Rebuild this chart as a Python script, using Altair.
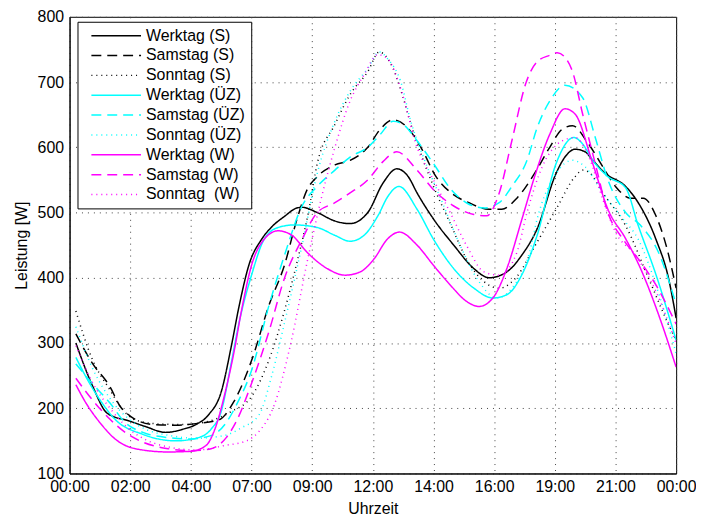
import altair as alt
import pandas as pd

series_names = ["Werktag (S)", "Samstag (S)", "Sonntag (S)",
                "Werktag (ÜZ)", "Samstag (ÜZ)", "Sonntag (ÜZ)",
                "Werktag (W)", "Samstag (W)", "Sonntag \u00a0(W)"]
series_colors = ["#000000", "#000000", "#000000",
                 "#00ffff", "#00ffff", "#00ffff",
                 "#ff00ff", "#ff00ff", "#ff00ff"]
series_dashes = [[1, 0], [10, 6], [1, 4],
                 [1, 0], [10, 6], [1, 4],
                 [1, 0], [10, 6], [1, 4]]

x_tick_values = [0, 2.4, 4.8, 7.2, 9.6, 12, 14.4, 16.8, 19.2, 21.6, 24]
x_tick_labels = ["00:00", "02:00", "04:00", "07:00", "09:00", "12:00",
                 "14:00", "16:00", "19:00", "21:00", "00:00"]
y_tick_values = [100, 200, 300, 400, 500, 600, 700, 800]

# Werktag (S)
h_ws = [0.25, 0.9, 1.5, 2.4, 3.0, 3.8, 4.5, 5.0, 5.5, 6.0, 6.4, 6.7, 7.1, 7.6, 8.0, 8.5, 9.0,
        9.2, 9.8, 10.5, 11.1, 11.8, 12.4, 12.95, 13.4, 13.75, 14.4, 15.2, 16.0, 16.6, 17.3,
        17.9, 18.5, 19.25, 19.6, 20.0, 20.4, 20.7, 21.2, 22.0, 22.5, 23.2, 23.7, 24.0]
v_ws = [300, 235, 192, 180, 172, 163, 168, 175, 190, 225, 295, 355, 420, 459, 478, 494, 507,
        508, 500, 487, 483, 500, 545, 567, 555, 530, 490, 450, 414, 400, 409,
        435, 475, 560, 585, 597, 593, 580, 560, 540, 515, 459, 399, 338]
# Samstag (S)
h_ss = [0.25, 0.9, 1.6, 2.0, 2.4, 3.3, 4.2, 5.1, 5.9, 6.5, 7.2, 7.9, 8.5, 9.0, 9.4, 9.8, 10.5,
        11.1, 11.8, 12.3, 12.8, 13.35, 13.9, 14.5, 15.1, 15.8, 16.6, 17.1, 17.7, 18.4, 19.0,
        19.5, 19.9, 20.5, 21.1, 21.6, 22.2, 22.7, 23.2, 23.6, 24.0]
v_ss = [314, 269, 233, 203, 188, 175, 174, 177, 182, 210, 273, 359, 419, 490, 535, 555, 573,
        580, 600, 628, 642, 631, 600, 555, 530, 515, 505, 505, 522, 560, 600,
        628, 633, 607, 570, 540, 522, 522, 495, 450, 384]
# Sonntag (S)
h_so = [0.25, 0.9, 1.6, 2.1, 2.6, 3.5, 4.5, 5.5, 6.4, 7.2, 7.9, 8.5, 9.0, 9.45, 9.8, 10.5,
        11.1, 11.8, 12.25, 12.8, 13.2, 13.5, 13.9, 14.4, 15.1, 15.7, 16.4, 17.0, 17.7, 18.4,
        19.25, 20.0, 20.3, 20.6, 21.1, 22.0, 22.9, 23.8, 24.0]
v_so = [349, 275, 228, 198, 182, 176, 175, 180, 195, 218, 275, 349, 424, 500, 575, 635,
        681, 716, 746, 721, 676, 636, 590, 540, 480, 429, 394, 384, 402, 448,
        505, 555, 565, 560, 530, 480, 400, 320, 305]
# Werktag (ÜZ)
h_wu = [0.25, 0.65, 1.2, 1.8, 2.9, 4.2, 5.1, 5.6, 6.0, 6.4, 6.7, 7.2, 7.7, 8.25, 8.9, 9.8,
        10.5, 11.1, 11.65, 12.2, 12.6, 13.03, 13.75, 14.4, 15.2, 16.0, 16.75, 17.3, 17.9,
        18.5, 19.25, 19.95, 20.3, 20.7, 21.3, 22.0, 22.5, 23.2, 24.0]
v_wu = [278, 248, 213, 183, 160, 150, 155, 168, 195, 270, 330, 404, 459, 477, 481, 477,
        465, 456, 465, 495, 525, 540, 505, 459, 414, 384, 369, 374, 405,
        465, 575, 615, 605, 580, 555, 538, 480, 405, 304]
# Samstag (ÜZ)
h_su = [0.25, 0.9, 1.6, 2.2, 2.9, 3.9, 4.8, 5.6, 6.2, 6.6, 7.2, 7.9, 8.5, 9.2, 9.8, 10.5,
        11.1, 11.8, 12.3, 12.8, 13.2, 13.75, 14.4, 15.1, 15.7, 16.4, 17.0, 17.5, 18.1, 18.5,
        19.0, 19.6, 20.3, 20.8, 21.3, 22.0, 22.6, 23.3, 24.0]
v_su = [268, 238, 208, 178, 163, 155, 153, 158, 178, 205, 258, 359, 434, 510, 540, 565,
        585, 600, 620, 640, 635, 610, 575, 535, 515, 507, 515, 540, 580, 630,
        671, 695, 676, 615, 550, 500, 480, 439, 359]
# Sonntag (ÜZ)
h_sou = [0.25, 0.9, 1.6, 2.3, 3.0, 4.0, 5.0, 6.1, 6.8, 7.5, 8.0, 8.5, 9.2, 9.8, 10.5, 11.1,
         11.8, 12.25, 12.6, 13.1, 13.5, 14.0, 14.7, 15.45, 16.2, 16.9, 17.5, 18.2, 18.5,
         19.25, 19.9, 20.4, 21.1, 21.9, 22.5, 23.2, 24.0]
v_sou = [325, 262, 215, 185, 168, 158, 154, 158, 170, 190, 250, 330, 450, 560, 640, 686,
         721, 746, 735, 701, 640, 585, 520, 450, 394, 369, 384, 439, 490,
         560, 580, 570, 530, 490, 459, 389, 284]
# Werktag (W)
h_ww = [0.25, 0.65, 1.2, 1.8, 2.6, 3.9, 4.8, 5.4, 5.75, 6.15, 6.5, 6.8, 7.2, 7.7, 8.25, 8.8,
        9.4, 10.2, 10.9, 11.5, 12.05, 12.57, 13.05, 13.75, 14.4, 15.06, 15.7, 16.2, 16.75,
        17.3, 17.9, 18.4, 19.0, 19.6, 20.0, 20.7, 21.3, 22.0, 22.65, 23.3, 24.0]
v_ww = [236, 208, 178, 153, 138, 133, 134, 143, 168, 223, 285, 349, 419, 459, 472, 465,
        439, 414, 404, 409, 429, 459, 470, 450, 419, 389, 364, 356, 369,
        414, 490, 555, 620, 659, 651, 575, 505, 460, 409, 344, 263]
# Samstag (W)
h_sw = [0.25, 0.9, 1.6, 2.2, 2.9, 3.9, 4.8, 5.6, 6.2, 6.6, 7.2, 7.9, 8.5, 9.2, 9.8, 10.5,
        11.1, 11.8, 12.4, 12.95, 13.75, 14.4, 15.2, 16.0, 16.5, 17.0, 17.5, 18.07, 18.5,
        19.0, 19.3, 19.6, 19.9, 20.3, 20.8, 21.3, 21.9, 22.5, 23.2, 24.0]
v_sw = [246, 213, 183, 163, 148, 138, 135, 138, 155, 180, 238, 319, 399, 459, 500, 515,
        530, 550, 578, 593, 565, 535, 510, 497, 495, 530, 610, 700, 731,
        741, 745, 738, 716, 651, 575, 500, 459, 429, 389, 329]
# Sonntag (W)
h_sow = [0.25, 0.9, 1.6, 2.3, 3.0, 4.0, 5.0, 6.15, 7.0, 7.46, 8.1, 8.75, 9.4, 9.95, 10.5,
         11.1, 11.65, 12.2, 12.6, 13.1, 13.75, 14.4, 15.06, 15.7, 16.4, 17.0, 17.7, 18.1,
         18.7, 19.5, 20.0, 20.55, 21.1, 21.6, 22.4, 23.2, 24.0]
v_sow = [296, 240, 200, 170, 152, 140, 136, 143, 150, 163, 205, 299, 424, 520, 600,
         671, 711, 742, 735, 690, 600, 550, 500, 450, 409, 404, 439, 500,
         570, 610, 615, 585, 520, 470, 434, 379, 299]

all_hours = [h_ws, h_ss, h_so, h_wu, h_su, h_sou, h_ww, h_sw, h_sow]
all_values = [v_ws, v_ss, v_so, v_wu, v_su, v_sou, v_ww, v_sw, v_sow]

rows = []
for name, hs, vs in zip(series_names, all_hours, all_values):
    for h, v in zip(hs, vs):
        rows.append({"series": name, "h": h, "v": v})
df = pd.DataFrame(rows)

label_array = "[" + ",".join("'" + s + "'" for s in x_tick_labels) + "]"

FONT = "Liberation Sans"

legend = alt.Legend(title=None, orient="none", legendX=8, legendY=5)

chart = alt.Chart(df).mark_line(strokeWidth=1.5, interpolate="monotone", clip=True).encode(
    x=alt.X("h:Q",
            scale=alt.Scale(domain=[0, 24], nice=False, zero=False),
            axis=alt.Axis(values=x_tick_values,
                          labelExpr=label_array + "[round(datum.value / 2.4)]",
                          title="Uhrzeit", labelPadding=5, titlePadding=6,
                          labelOverlap=False, labelFlush=False)),
    y=alt.Y("v:Q",
            scale=alt.Scale(domain=[100, 800], nice=False, zero=False),
            axis=alt.Axis(values=y_tick_values, title="Leistung [W]",
                          labelPadding=6, titlePadding=8)),
    color=alt.Color("series:N",
                    scale=alt.Scale(domain=series_names, range=series_colors),
                    legend=legend),
    strokeDash=alt.StrokeDash("series:N",
                              scale=alt.Scale(domain=series_names, range=series_dashes),
                              legend=legend),
).properties(
    width=611,
    height=460,
    autosize=alt.AutoSizeParams(type="none"),
    padding={"left": 62, "top": 7, "right": 20, "bottom": 46},
).configure_view(
    stroke="#000000", strokeWidth=1
).configure_axis(
    domainColor="#000000", domainWidth=1,
    ticks=False,
    grid=True, gridColor="#444444", gridDash=[1, 5], gridWidth=1, gridOpacity=1,
    labelFont=FONT, labelFontSize=16, labelColor="#000000",
    titleFont=FONT, titleFontSize=16, titleColor="#000000", titleFontWeight="normal",
).configure_legend(
    strokeColor="#000000", fillColor="#ffffff", padding=6, cornerRadius=0,
    labelFont=FONT, labelFontSize=16, labelColor="#000000", labelOffset=22,
    symbolType="M-5,0H5", symbolSize=100, symbolStrokeWidth=1.5, symbolOffset=25,
    rowPadding=4, labelLimit=300,
)

chart.save("out.html", embed_options={"renderer": "svg", "actions": False})
